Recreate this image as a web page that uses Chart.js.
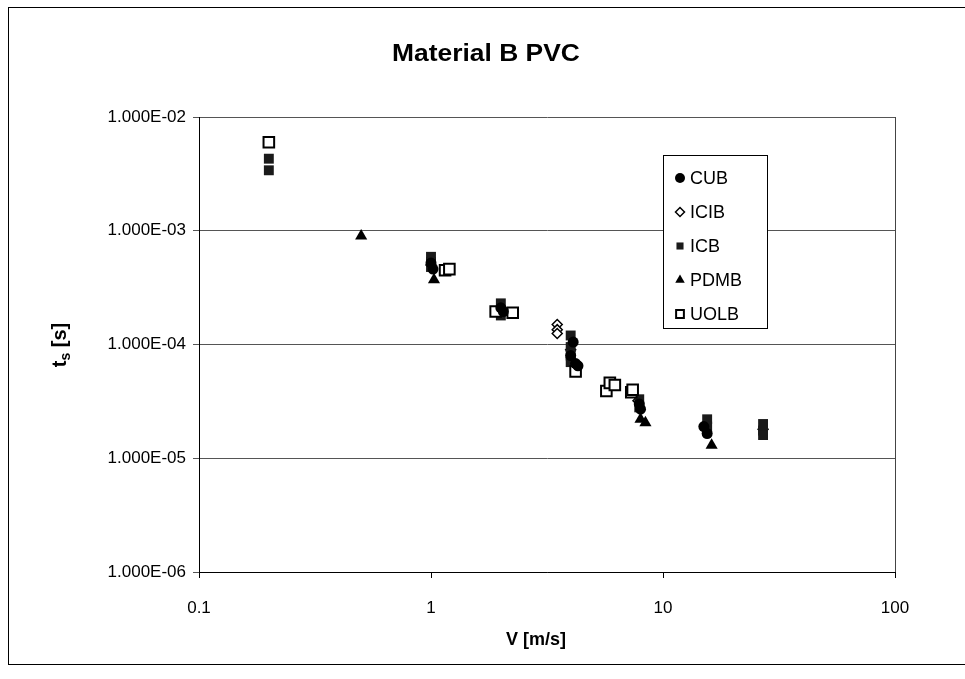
<!DOCTYPE html>
<html>
<head>
<meta charset="utf-8">
<script src="https://cdn.jsdelivr.net/npm/chart.js@4.4.1/dist/chart.umd.min.js"></script>
<style>
  body { margin: 0; background: #fff; }
  #wrap { width: 965px; height: 679px; }
</style>
</head>
<body>
<div id="wrap"><canvas id="myChart" width="965" height="679"></canvas></div>
<script>
// values (V in m/s, ts in s)
const cubV = [1.0, 1.02, 2.0, 2.05, 4.1, 4.0, 4.2, 4.3, 7.9, 8.0, 15.0, 15.5];
const cubT = [5.2e-4, 4.6e-4, 2.1e-4, 1.95e-4, 1.05e-4, 8e-5, 6.8e-5, 6.5e-5, 3.0e-5, 2.7e-5, 1.9e-5, 1.65e-5];

const icibV = [1.0, 2.0, 3.5, 3.5, 3.5, 4.0, 7.8, 15.3, 27];
const icibT = [5.0e-4, 2.0e-4, 1.5e-4, 1.35e-4, 1.25e-4, 9e-5, 3.2e-5, 2.0e-5, 1.8e-5];

const icbV = [0.2, 0.2, 1.0, 1.0, 1.0, 2.0, 2.0, 4.0, 4.0, 4.0, 4.0, 7.9, 7.9, 15.5, 15.5, 27, 27, 27];
const icbT = [4.3e-3, 3.4e-3, 5.9e-4, 5.3e-4, 4.8e-4, 2.3e-4, 1.8e-4, 1.2e-4, 9.5e-5, 8e-5, 7e-5, 3.3e-5, 2.8e-5, 2.2e-5, 1.9e-5, 2.0e-5, 1.75e-5, 1.6e-5];

const pdmbV = [0.5, 1.03, 8.0, 8.4, 16.2];
const pdmbT = [9e-4, 3.7e-4, 2.2e-5, 2.05e-5, 1.3e-5];

const uolbV = [0.2, 1.15, 1.2, 1.9, 2.25, 4.2, 5.7, 5.9, 6.2, 7.3, 7.4];
const uolbT = [6e-3, 4.5e-4, 4.6e-4, 1.95e-4, 1.9e-4, 5.8e-5, 3.9e-5, 4.6e-5, 4.4e-5, 3.8e-5, 4.0e-5];

const xTicks = [0.1, 1, 10, 100];
const yTicks = [1e-6, 1e-5, 1e-4, 1e-3, 1e-2];

const FONT = "'Liberation Sans', Arial, sans-serif";

function pts(xs, ys) {
  return xs.map((v, i) => ({ x: v, y: ys[i] }));
}

function sci(v) {
  let e = Math.round(Math.log10(v));
  let m = v / Math.pow(10, e);
  let sign = e < 0 ? "-" : "+";
  let ee = String(Math.abs(e)).padStart(2, "0");
  return m.toFixed(3) + "E" + sign + ee;
}

// order: lower value drawn on top
const series = [
  { label: "CUB", data: pts(cubV, cubT), pointStyle: "circle", radius: 5.5, legendRadius: 5, bg: "#000", border: "#000", bw: 0, order: 1 },
  { label: "ICIB", data: pts(icibV, icibT), pointStyle: "rectRot", radius: 5, legendRadius: 4.5, bg: "#fff", border: "#000", bw: 1.5, order: 4 },
  { label: "ICB", data: pts(icbV, icbT), pointStyle: "rect", radius: 7, legendRadius: 5, bg: "#1a1a1a", border: "#1a1a1a", bw: 0, order: 3 },
  { label: "PDMB", data: pts(pdmbV, pdmbT), pointStyle: "triangle", radius: 7, legendRadius: 5.5, bg: "#000", border: "#000", bw: 0, order: 0 },
  { label: "UOLB", data: pts(uolbV, uolbT), pointStyle: "rect", radius: 7.5, legendRadius: 5.5, bg: "#fff", border: "#000", bw: 2, order: 2 }
];

const extras = {
  id: "extras",
  afterDraw(chart) {
    const ctx = chart.ctx;
    const a = chart.chartArea;
    ctx.save();
    // outer frame
    ctx.strokeStyle = "#000";
    ctx.lineWidth = 1;
    ctx.strokeRect(8.5, 7.5, 990, 657);
    // plot right edge
    ctx.beginPath();
    ctx.moveTo(a.right + 0.5, a.top);
    ctx.lineTo(a.right + 0.5, a.bottom);
    ctx.strokeStyle = "#444";
    ctx.stroke();

    // title
    ctx.fillStyle = "#000";
    ctx.textAlign = "center";
    ctx.textBaseline = "middle";
    ctx.save();
    ctx.translate(486, 54);
    ctx.scale(1.1, 1);
    ctx.font = "bold 24px " + FONT;
    ctx.fillText("Material B PVC", 0, 0);
    ctx.restore();

    // x title
    ctx.font = "bold 18px " + FONT;
    ctx.fillText("V [m/s]", 536, 640);

    // y title with subscript
    ctx.save();
    ctx.translate(60, 345);
    ctx.rotate(-Math.PI / 2);
    ctx.textAlign = "left";
    ctx.font = "bold 20px " + FONT;
    const w1 = ctx.measureText("t").width;
    ctx.font = "bold 14px " + FONT;
    const w2 = ctx.measureText("s").width;
    ctx.font = "bold 20px " + FONT;
    const w3 = ctx.measureText(" [s]").width;
    let x0 = -(w1 + w2 + w3) / 2;
    ctx.fillText("t", x0, 0);
    ctx.font = "bold 14px " + FONT;
    ctx.fillText("s", x0 + w1, 6);
    ctx.font = "bold 20px " + FONT;
    ctx.fillText(" [s]", x0 + w1 + w2, 0);
    ctx.restore();

    // legend box
    const lx = 663, ly = 155, lw = 104, lh = 173;
    ctx.fillStyle = "#fff";
    ctx.fillRect(lx, ly, lw, lh);
    ctx.strokeStyle = "#000";
    ctx.lineWidth = 1;
    ctx.strokeRect(lx + 0.5, ly + 0.5, lw, lh);
    ctx.font = "18px " + FONT;
    ctx.textAlign = "left";
    series.forEach((s, i) => {
      const yy = 178 + i * 34;
      ctx.fillStyle = s.bg;
      ctx.strokeStyle = s.border;
      ctx.lineWidth = s.bw;
      Chart.helpers.drawPoint(ctx, { pointStyle: s.pointStyle, radius: s.legendRadius, borderWidth: s.bw, rotation: 0 }, 680, yy);
      ctx.fillStyle = "#000";
      ctx.fillText(s.label, 690, yy + 1);
    });
    ctx.restore();
  }
};

function onlyDecades(scale) {
  scale.ticks = scale.ticks.filter(t => {
    const l = Math.log10(t.value);
    return Math.abs(l - Math.round(l)) < 1e-9;
  });
}

const myChart = new Chart(document.getElementById("myChart"), {
  type: "scatter",
  data: {
    datasets: series.map(s => ({
      label: s.label,
      data: s.data,
      order: s.order,
      pointStyle: s.pointStyle,
      pointRadius: s.radius,
      pointHoverRadius: s.radius,
      backgroundColor: s.bg,
      borderColor: s.border,
      borderWidth: s.bw
    }))
  },
  options: {
    responsive: false,
    animation: false,
    events: [],
    layout: { padding: { left: 0, top: 117, right: 70, bottom: 0 } },
    plugins: {
      legend: { display: false },
      title: { display: false },
      tooltip: { enabled: false }
    },
    scales: {
      x: {
        type: "logarithmic",
        min: 0.1,
        max: 100,
        afterBuildTicks: onlyDecades,
        afterFit: s => { s.height = 107; },
        ticks: {
          color: "#000",
          font: { family: FONT, size: 17 },
          padding: 20,
          maxRotation: 0,
          autoSkip: false,
          callback: v => String(v)
        },
        grid: { drawOnChartArea: false, drawTicks: true, tickLength: 6, color: "#000" },
        border: { color: "#000", width: 1 }
      },
      y: {
        type: "logarithmic",
        min: 1e-6,
        max: 1e-2,
        afterBuildTicks: onlyDecades,
        afterFit: s => { s.width = 199; },
        ticks: {
          color: "#000",
          font: { family: FONT, size: 17 },
          padding: 7,
          autoSkip: false,
          callback: v => sci(v)
        },
        grid: { color: "#555", lineWidth: 1, tickLength: 6 },
        border: { color: "#000", width: 1 }
      }
    }
  },
  plugins: [extras]
});
</script>
</body>
</html>
